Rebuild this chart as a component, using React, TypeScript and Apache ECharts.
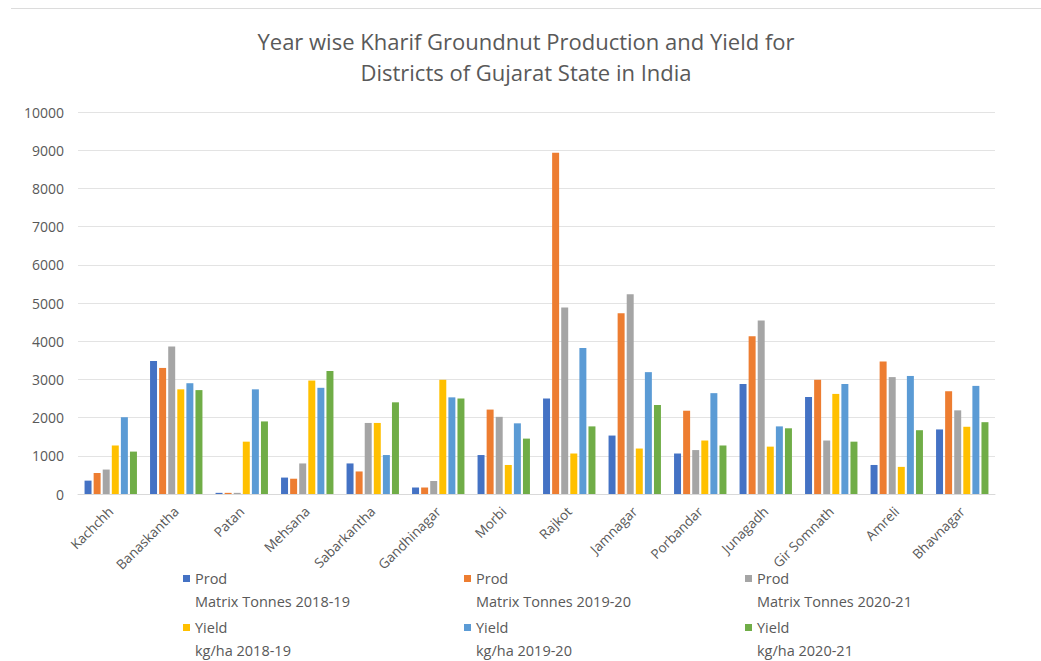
import React, { useEffect, useRef } from "react";
import * as echarts from "echarts";

// Districts on the category axis
const districts = [
  "Kachchh", "Banaskantha", "Patan", "Mehsana", "Sabarkantha", "Gandhinagar", "Morbi",
  "Rajkot", "Jamnagar", "Porbandar", "Junagadh", "Gir Somnath", "Amreli", "Bhavnagar",
];

// Production (matrix tonnes)
const prod2018 = [350, 3480, 30, 430, 800, 170, 1020, 2500, 1530, 1060, 2880, 2540, 760, 1690];
const prod2019 = [550, 3300, 30, 400, 590, 170, 2210, 8930, 4730, 2180, 4130, 2990, 3470, 2690];
const prod2020 = [640, 3860, 30, 800, 1860, 340, 2020, 4880, 5230, 1150, 4540, 1400, 3060, 2190];

// Yield (kg/ha)
const yield2018 = [1270, 2740, 1370, 2970, 1860, 2990, 760, 1060, 1190, 1400, 1240, 2620, 710, 1760];
const yield2019 = [2010, 2900, 2740, 2780, 1020, 2530, 1850, 3820, 3190, 2640, 1770, 2880, 3090, 2830];
const yield2020 = [1110, 2720, 1900, 3220, 2400, 2500, 1450, 1770, 2330, 1270, 1720, 1370, 1670, 1880];

const seriesNames = [
  "Prod\nMatrix Tonnes 2018-19",
  "Prod\nMatrix Tonnes 2019-20",
  "Prod\nMatrix Tonnes 2020-21",
  "Yield\nkg/ha 2018-19",
  "Yield\nkg/ha 2019-20",
  "Yield\nkg/ha 2020-21",
];
const seriesData = [prod2018, prod2019, prod2020, yield2018, yield2019, yield2020];
const palette = ["#4472C4", "#ED7D31", "#A5A5A5", "#FFC000", "#5B9BD5", "#70AD47"];

const yTicks = { min: 0, max: 10000, interval: 1000 };

const FONT = "'Open Sans', 'Noto Sans', sans-serif";
const TEXT = "#595959";

export default function App() {
  const ref = useRef<HTMLDivElement>(null);

  useEffect(() => {
    document.body.style.margin = "0";
    if (!ref.current) return;
    const chart = echarts.init(ref.current, undefined, { renderer: "svg" });

    // one legend block per entry, laid out as a 3 x 2 table;
    // a leading blank line keeps the swatch level with the first text line
    const colLeft = [183, 464, 745];
    const rowTop = [544, 593];
    const legends = seriesNames.map((name, i) => ({
      data: [name],
      left: colLeft[i % 3],
      top: rowTop[Math.floor(i / 3)],
      padding: 0,
      itemWidth: 7,
      itemHeight: 7,
      icon: "rect",
      formatter: (n: string) => "\n" + n,
      textStyle: {
        color: TEXT,
        fontFamily: FONT,
        fontSize: 14.5,
        lineHeight: 23,
      },
      selectedMode: false,
    }));

    chart.setOption({
      animation: false,
      backgroundColor: "#ffffff",
      color: palette,
      title: {
        text: "Year wise Kharif Groundnut Production and Yield for\nDistricts of Gujarat State in India",
        left: 526,
        top: 25,
        padding: 0,
        textAlign: "center",
        textStyle: {
          color: TEXT,
          fontFamily: FONT,
          fontSize: 22,
          fontWeight: "normal",
          lineHeight: 31,
        },
      },
      graphic: [
        {
          type: "line",
          shape: { x1: 11, y1: 8.5, x2: 1041, y2: 8.5 },
          style: { stroke: "#dcdcdc", lineWidth: 1 },
          silent: true,
        },
      ],
      legend: legends,
      grid: { left: 78, right: 46, top: 112, bottom: 167 },
      xAxis: {
        type: "category",
        data: districts,
        axisTick: { show: false },
        axisLine: { lineStyle: { color: "#d9d9d9" } },
        axisLabel: {
          interval: 0,
          rotate: 45,
          margin: 15,
          color: TEXT,
          fontFamily: FONT,
          fontSize: 13.5,
        },
      },
      yAxis: {
        type: "value",
        min: yTicks.min,
        max: yTicks.max,
        interval: yTicks.interval,
        axisLine: { show: false },
        axisTick: { show: false },
        splitLine: { lineStyle: { color: "#e3e3e3", width: 1 } },
        axisLabel: {
          margin: 14,
          color: TEXT,
          fontFamily: FONT,
          fontSize: 14,
          formatter: (v: number) => String(v),
        },
      },
      series: seriesNames.map((name, i) => ({
        name,
        type: "bar",
        data: seriesData[i],
        barGap: "30%",
        barCategoryGap: "20%",
      })),
    });

    return () => chart.dispose();
  }, []);

  return <div ref={ref} style={{ width: 1041, height: 661 }} />;
}
